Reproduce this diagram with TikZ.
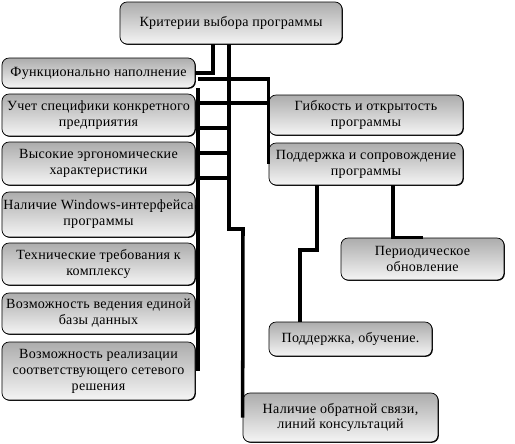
\documentclass[tikz,border=0pt]{standalone}
\usepackage{fontspec}
\setmainfont{Liberation Serif}[LetterSpace=2]
\usetikzlibrary{shadows}

\begin{document}
\begin{tikzpicture}[
    x=0.03cm, y=-0.03cm,
    box/.style={draw, rectangle, rounded corners=6pt, align=center, inner xsep=1pt, inner ysep=2pt,
        top color=gray!65, bottom color=gray!8, line width=0.6pt,
        drop shadow={shadow xshift=0.7pt, shadow yshift=-0.7pt, fill=black, opacity=1},
        font=\fontsize{12}{13.6}\selectfont},
    conn/.style={draw=black, line width=3pt, line join=miter}
]
    \useasboundingbox (0,0) rectangle (515,443);

    % Top node
    \node[box, minimum width=6.66cm, minimum height=1.26cm] (top) at (231,23) {Критерии выбора программы};

    % Left column
    \node[box, minimum width=5.79cm, minimum height=0.9cm] (f1) at (98.5,73) {Функционально наполнение};
    \node[box, minimum width=5.79cm, minimum height=1.26cm] (f2) at (98.5,115) {Учет специфики конкретного\\предприятия};
    \node[box, minimum width=5.79cm, minimum height=1.29cm] (f3) at (98.5,163.5) {Высокие эргономические\\характеристики};
    \node[box, minimum width=5.79cm, minimum height=1.35cm] (f4) at (98.5,214.5) {Наличие Windows-интерфейса\\программы};
    \node[box, minimum width=5.79cm, minimum height=1.26cm] (f5) at (98.5,264) {Технические требования к\\комплексу};
    \node[box, minimum width=5.79cm, minimum height=1.23cm] (f6) at (98.5,313.5) {Возможность ведения единой\\базы данных};
    \node[box, minimum width=5.79cm, minimum height=1.74cm] (f7) at (98.5,371) {Возможность реализации\\соответствующего сетевого\\решения};

    % Right column
    \node[box, minimum width=5.82cm, minimum height=1.2cm] (gib) at (366,115) {Гибкость и открытость\\программы};
    \node[box, minimum width=5.82cm, minimum height=1.26cm] (sup) at (366,164) {Поддержка и сопровождение\\программы};
    \node[box, minimum width=4.89cm, minimum height=1.26cm] (per) at (422.5,259) {Периодическое\\обновление};
    \node[box, minimum width=4.89cm, minimum height=1.02cm] (obu) at (350.5,339) {Поддержка, обучение.};
    \node[box, minimum width=5.85cm, minimum height=1.47cm] (obr) at (340.5,417.5) {Наличие обратной связи,\\линий консультаций};

    % Trunk lines from the top node
    \draw[conn] (top.south -| 213,0) |- (f1.east);
    \draw[conn] (top.south -| 229,0) |- (243,229) -- (obr.west);

    % Bus along the left column
    \draw[conn] (f1.south east -| 198,0) -- (f7.east -| 198,0);
    \draw[conn] (198,79) -| (sup.west);
    \draw[conn] (198,103) -- (gib.west |- 198,103);
    \foreach \yy in {128,153,178}
        \draw[conn] (198,\yy) -- (229,\yy);
    \draw[conn] (f4.east |- 0,207) -- (198,207);

    % Support subtree
    \draw[conn] (sup.south -| 317,0) |- (300,250) -- (obu.north -| 300,0);
    \draw[conn] (sup.south -| 393,0) |- (per.north);

\end{tikzpicture}
\end{document}
